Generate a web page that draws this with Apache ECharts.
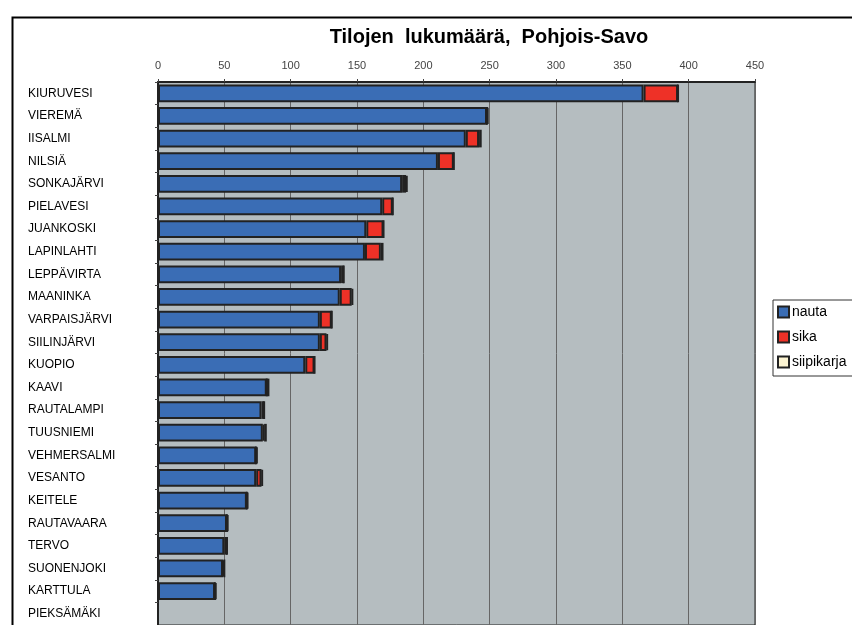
<!DOCTYPE html>
<html>
<head>
<meta charset="utf-8">
<script src="https://cdn.jsdelivr.net/npm/echarts@6/dist/echarts.min.js"></script>
<style>
html,body{margin:0;padding:0;background:#fff;}
#chart{width:852px;height:625px;}
</style>
</head>
<body>
<div id="chart"></div>
<script>
const categories = ["KIURUVESI","VIEREMÄ","IISALMI","NILSIÄ","SONKAJÄRVI","PIELAVESI","JUANKOSKI","LAPINLAHTI","LEPPÄVIRTA","MAANINKA","VARPAISJÄRVI","SIILINJÄRVI","KUOPIO","KAAVI","RAUTALAMPI","TUUSNIEMI","VEHMERSALMI","VESANTO","KEITELE","RAUTAVAARA","TERVO","SUONENJOKI","KARTTULA","PIEKSÄMÄKI"];
const nauta      = [366,248,232,211,184,169,157,156,138,137,122,122,111,82,78,79,74,74,67,52,50,49,43,0];
const sika       = [26,0,10,12,3,8,13,12,2,9,9,5,7,0,2,1,0,4,0,0,2,1,0,0];
const siipikarja = [0,1,2,0,1,0,0,2,0,1,0,1,0,2,0,2,1,1,1,1,0,0,1,0];
const xTicks = {min:0, max:450, interval:50};
const seriesNames = ["nauta","sika","siipikarja"];

const chart = echarts.init(document.getElementById('chart'));
const colors = ['#3a6db5','#ee3127','#fcf4d2'];
const dataSets = [nauta, sika, siipikarja];
const font = 'Arial, "Liberation Sans", sans-serif';

chart.setOption({
  animation:false,
  backgroundColor:'#fff',
  textStyle:{fontFamily:font},
  title:{
    text:'Tilojen  lukumäärä,  Pohjois-Savo',
    left:484, top:22, textAlign:'center',
    textStyle:{fontSize:20,fontWeight:'bold',color:'#000',fontFamily:font}
  },
  graphic:[{
    type:'rect', left:10, top:15, z:-1,
    shape:{width:900,height:700},
    style:{fill:'none',stroke:'#000',lineWidth:2}
  }],
  legend:{
    orient:'vertical', left:773, top:300,
    data:seriesNames,
    padding:[5,20,7,4],
    itemWidth:11, itemHeight:11, itemGap:11,
    borderColor:'#333', borderWidth:1, backgroundColor:'#fff',
    textStyle:{fontSize:14,lineHeight:14,color:'#000',padding:[0,0,0,-2]},
    icon:'rect'
  },
  grid:{
    left:158, top:82, width:597, height:545,
    show:true, backgroundColor:'#b5bdc0', borderColor:'#222', borderWidth:1
  },
  xAxis:{
    type:'value', position:'top',
    min:xTicks.min, max:xTicks.max, interval:xTicks.interval,
    axisLine:{show:true,lineStyle:{color:'#222',width:2}},
    axisTick:{show:true,length:3,lineStyle:{color:'#444'}},
    axisLabel:{color:'#444',fontSize:11,margin:11},
    splitLine:{show:true,lineStyle:{color:'#666',width:1}}
  },
  yAxis:{
    type:'category', inverse:true, data:categories,
    axisLine:{show:true,lineStyle:{color:'#222',width:2}},
    axisTick:{show:true,length:3,lineStyle:{color:'#444'}},
    axisLabel:{align:'left',margin:130,color:'#000',fontSize:12}
  },
  series: seriesNames.map((n,i)=>({
    name:n, type:'bar', stack:'total',
    barCategoryGap:'22%',
    data:dataSets[i],
    itemStyle:{color:colors[i],borderColor:'#222',borderWidth:2}
  }))
});
</script>
</body>
</html>
